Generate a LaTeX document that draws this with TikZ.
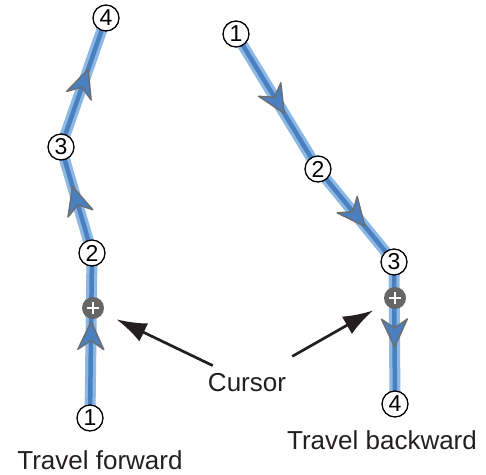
\documentclass[tikz,border=0pt]{standalone}
\usepackage{fontspec}
\setmainfont{Liberation Sans}
\usetikzlibrary{decorations.markings, backgrounds, arrows.meta}
\definecolor{bandlight}{HTML}{8CB8E4}
\definecolor{banddark}{HTML}{4A7FC0}
\definecolor{tipgray}{HTML}{6E6E6E}
\definecolor{cursorgray}{HTML}{666666}
\definecolor{inkblack}{HTML}{231F20}
\tikzset{
  pt/.style={circle, draw, line width=1.3pt, fill=white, inner sep=0pt, minimum size=26pt, font=\fontsize{23}{23}\selectfont},
  cursor/.style={circle, fill=cursorgray, inner sep=0pt, minimum size=22pt},
  band/.style={line width=11pt, bandlight},
  core/.style={line width=4.5pt, banddark, postaction={decorate, decoration={markings, mark=at position 0.5 with {\filldraw[fill=banddark, draw=tipgray, line width=1.4pt, line join=round] (14pt,0pt) -- (-14pt,13pt) -- (-5pt,0pt) -- (-14pt,-13pt) -- cycle;}}}},
  pointer/.style={line width=2.7pt, inkblack, -{Latex[length=30pt, width=20pt]}},
  caption/.style={font=\fontsize{26}{26}\selectfont, text=inkblack, anchor=base}
}
\begin{document}
\begin{tikzpicture}[x=1pt, y=-1pt]
  \useasboundingbox (0,0) rectangle (486,474);
  \foreach \n/\x/\y in {1/90/418, 2/92/253, 3/61/147, 4/106/18}
    \node[pt] (f\n) at (\x,\y) {\n};
  \foreach \n/\x/\y in {1/236/34, 2/318/169, 3/394/262, 4/395/404}
    \node[pt] (b\n) at (\x,\y) {\n};
  \node[cursor] (fcur) at (93,308) {};
  \node[cursor] (bcur) at (395,298) {};
  \foreach \c in {fcur, bcur}
    \draw[white, line width=2pt] ([xshift=-6pt]\c.center) -- ([xshift=6pt]\c.center)
      ([yshift=-6pt]\c.center) -- ([yshift=6pt]\c.center);
  \begin{scope}[on background layer]
    \foreach \a/\b in {f1/f2, f2/f3, f3/f4, b1/b2, b2/b3, b3/b4} {
      \draw[band] (\a.center) -- (\b.center);
      \draw[core] (\a.center) -- (\b.center);
    }
  \end{scope}
  \node[caption] (curlabel) at (247,391) {Cursor};
  \draw[pointer, shorten <=38pt, shorten >=15pt] (curlabel.center) -- (fcur);
  \draw[pointer, shorten <=52pt, shorten >=14pt] (curlabel.center) -- (bcur);
  \node[caption] (fwdlabel) at (100,469) {Travel forward};
  \node[caption] (bwdlabel) at (382,449) {Travel backward};
\end{tikzpicture}
\end{document}
